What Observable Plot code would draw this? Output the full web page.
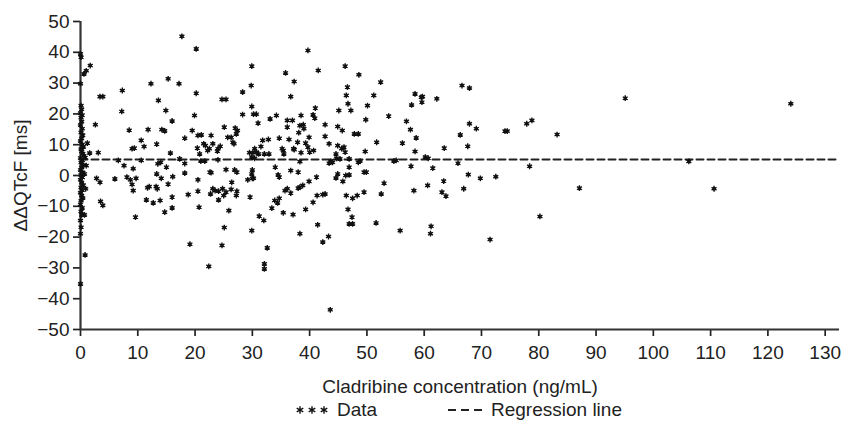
<!DOCTYPE html>
<html>
<head>
<meta charset="utf-8">
<script src="https://cdn.jsdelivr.net/npm/d3@7"></script>
<script src="https://cdn.jsdelivr.net/npm/@observablehq/plot@0.6"></script>
<style>
  html, body { margin: 0; padding: 0; background: #fff; }
  body { width: 848px; height: 425px; position: relative; overflow: hidden; font-family: "Liberation Sans", Arial, sans-serif; color: #222; }
  #legend { position: absolute; left: 0; top: 395px; width: 848px; height: 30px; font-size: 19px; }
  .item { position: absolute; top: 0; height: 30px; display: flex; align-items: center; white-space: nowrap; }
  .item svg { display: block; margin-right: 4px; }
</style>
</head>
<body>
<div id="chart"></div>
<div id="legend"></div>
<script>
// ---- Data (x: Cladribine concentration ng/mL, y: ΔΔQTcF ms) ----
// Points along / near the y axis
const concA = [0.0, 0.1, 0.0, 0.1, 0.2, 0.0, 0.3, 0.1, 0.2, 0.0,
  0.3, 0.1, 0.4, 0.2, 0.0, 0.3, 0.5, 0.1, 0.2, 0.4,
  0.6, 0.0, 0.3, 0.1, 0.5, 0.2, 0.0, 0.4, 0.1, 0.3,
  0.0, 0.2, 0.5, 0.1, 0.3, 0.0, 0.2, 0.4, 0.1, 0.0,
  0.3, 0.1, 0.2, 0.0, 0.1, 0.0, 0.0,
  0.6, 1.0, 1.7, 0.8, 1.2, 0.9, 0.7, 1.6, 0.8, 1.0, 0.7];
const dqtcfA = [39.5, 38.4, 29.8, 22.7, 21.5, 20.3, 19.6, 18.8, 17.5, 16.4,
  15.2, 14.0, 13.1, 12.0, 11.2, 10.1, 9.3, 8.6, 7.8, 7.1,
  6.4, 5.7, 4.9, 4.2, 3.4, 2.6, 1.8, 1.0, 0.2, -0.6,
  -1.4, -2.3, -3.1, -3.9, -4.8, -5.6, -6.5, -7.3, -8.2, -9.4,
  -10.5, -11.7, -12.8, -14.6, -16.8, -18.9, -35.2,
  33.0, 34.0, 35.7, -25.8, 10.5, -4.3, -12.8, 7.3, 5.8, 3.2, 0.5];

// 2 – 21 ng/mL
const concB = [2.6, 3.4, 3.9, 3.1, 2.8, 3.4, 3.5, 3.9, 6.0, 6.6,
  7.3, 7.2, 8.5, 7.6, 9.0, 9.4, 9.2, 8.1, 8.7, 9.7,
  9.0, 9.2, 9.6, 10.6, 11.1, 10.6, 11.8, 12.3, 13.6, 13.3,
  13.5, 14.0, 14.2, 14.7, 14.9, 15.3, 16.0, 15.7, 15.0, 13.3,
  11.7, 12.0, 13.2, 13.4, 14.1, 15.3, 16.1, 11.5, 12.7, 13.9,
  14.7, 16.0, 16.0, 17.2, 17.7, 18.2, 17.3, 18.2, 18.2, 18.8,
  19.1, 20.2, 20.2, 19.9, 19.5, 20.5, 20.5, 20.7];
const dqtcfB = [16.5, 25.6, 25.6, 7.4, -0.9, -2.2, -8.4, -9.7, -1.1, 4.9,
  27.6, 20.8, 14.7, 3.2, 8.7, 8.9, 2.2, -0.5, -1.4, -0.9,
  -2.9, -4.9, -13.5, 11.4, 9.4, 4.9, 14.9, 29.8, 24.4, 10.2,
  3.8, 4.3, 14.9, 14.5, 21.1, 31.4, 17.7, 7.3, 2.7, 0.5,
  -4.0, -3.6, -3.6, -4.3, -0.9, -2.8, -0.4, -7.9, -8.9, -8.1,
  -11.9, -10.5, -7.0, 29.8, 45.2, 12.1, 5.4, 3.9, 0.8, -6.2,
  -22.3, 41.1, 26.7, 19.5, 14.6, -1.4, -5.1, -10.3];

// 20 – 42 ng/mL
const concC = [20.5, 21.1, 20.4, 20.8, 21.5, 21.8, 22.2, 22.5, 22.8, 23.1,
  24.0, 24.4, 23.9, 21.0, 21.7, 24.0, 22.6, 22.8, 22.7, 23.1,
  23.5, 24.1, 24.1, 22.4, 24.7, 25.1, 24.7, 25.4, 25.1, 25.4,
  24.8, 25.4, 25.0, 25.9, 25.7, 26.3, 26.6, 26.8, 27.0, 27.4,
  27.2, 26.9, 27.3, 26.4, 26.3, 27.3, 27.2, 28.3, 28.3, 29.9,
  29.8, 29.9, 30.2, 30.7, 31.0, 29.5, 30.1, 30.4, 30.7, 29.9,
  30.4, 31.5, 31.8, 31.1, 32.1, 32.8, 33.1, 34.2, 32.9, 29.2,
  30.0, 29.9, 30.0, 30.2, 29.6, 29.9, 31.2, 32.0, 32.6, 32.1,
  32.1, 34.0, 34.5, 34.7, 33.9, 34.4, 34.7, 33.4, 35.4, 35.8,
  37.3, 36.7, 34.7, 35.2, 35.4, 36.1, 37.0, 36.1, 36.4, 37.2,
  37.3, 35.5, 36.7, 35.7, 36.1, 36.7, 37.1, 38.0, 38.3, 37.9,
  38.1, 38.5, 38.9, 39.0, 38.3, 38.5, 39.9, 39.3, 39.7, 40.0,
  39.7, 40.6, 40.9, 41.0, 41.5, 40.7, 38.0, 38.3, 38.8, 39.9,
  39.3, 40.6, 38.3, 41.2, 41.3, 41.4];
const dqtcfC = [13.0, 13.2, 8.9, 7.0, 10.3, 9.7, 8.1, 8.7, 13.0, 10.3,
  8.7, 9.5, 7.9, 4.7, 4.7, 5.1, 1.1, 0.9, -6.0, -4.3,
  -4.9, -5.1, -7.9, -29.5, -22.7, -16.9, 24.7, 24.7, 15.7, 1.9,
  -4.3, -5.4, -6.5, -11.4, 12.4, 12.4, 10.8, 10.3, 15.4, 14.6,
  13.5, 1.8, 1.1, -2.2, -4.5, -5.1, -6.5, 27.1, 19.8, 35.5,
  29.2, 22.4, 19.9, 19.9, 17.0, 7.4, 7.4, 8.7, 7.6, 6.0,
  5.6, 9.4, 11.4, 7.0, 7.0, 11.7, 18.4, 19.5, 7.0, -1.4,
  1.8, 0.5, -0.9, -0.9, -7.0, -17.9, -13.2, -14.6, -23.5, -28.7,
  -30.3, 2.7, 0.2, -0.5, -8.1, -8.9, -7.4, -10.6, -12.1, 33.3,
  30.5, 25.6, 12.1, 8.7, 8.1, 17.9, 17.9, 15.7, 11.7, 8.7,
  8.4, 7.0, 1.6, -4.9, -4.3, -5.7, -12.7, 1.1, 4.5, 10.8,
  13.9, 19.5, 16.5, 15.2, 16.2, 7.4, 12.4, 10.5, 9.2, 7.6,
  40.6, 19.7, 18.6, 21.9, 34.1, 8.1, -4.1, -3.8, -3.2, -1.9,
  -11.0, -8.7, -18.9, -0.5, -6.5, -16.0];

// 42 – 62 ng/mL
const concD = [42.7, 42.7, 43.4, 43.7, 44.0, 43.4, 44.6, 44.7, 44.9, 44.9,
  45.7, 45.1, 46.2, 46.6, 46.4, 46.7, 47.2, 48.6, 45.6, 46.0,
  46.2, 45.3, 46.9, 47.8, 48.5, 48.5, 48.8, 46.9, 46.3, 46.9,
  45.8, 44.6, 44.9, 49.7, 49.8, 50.1, 51.2, 52.4, 51.7, 49.5,
  49.9, 49.5, 46.4, 47.5, 48.3, 46.7, 47.4, 47.5, 46.9, 42.3,
  42.7, 43.3, 42.3, 43.6, 51.6, 52.5, 53.0, 53.8, 54.7, 55.1,
  55.8, 56.2, 56.9, 57.6, 57.8, 58.4, 58.6, 58.4, 57.7, 58.2,
  59.5, 59.6, 59.7, 60.2, 60.7, 61.5, 60.6, 61.2, 61.1, 62.2];
const dqtcfD = [16.5, 12.7, 10.3, 4.7, 4.3, 4.0, 7.0, 5.6, 9.7, 15.9,
  14.6, 21.1, 35.5, 28.7, 26.0, 23.3, 21.1, 32.7, 8.7, 9.2,
  7.6, 5.4, 5.4, 13.5, 13.5, 4.3, 4.7, 2.7, 0.0, 0.2,
  -1.9, -0.8, 0.5, 7.8, 18.1, 22.7, 26.0, 30.3, 10.8, 1.1,
  1.1, -5.4, -6.5, -7.4, -6.5, -11.0, -13.5, -15.7, -15.7, -6.2,
  -6.0, -19.8, -21.6, -43.6, -15.4, -6.0, -2.5, 19.3, 4.7, 4.9,
  -17.9, 10.5, 17.6, 14.9, 22.9, 26.5, 12.2, 7.8, 3.0, -4.9,
  25.4, 23.8, 25.6, 6.0, 5.6, 2.4, -3.2, -16.5, -18.9, 24.9];

// above 62 ng/mL
const concE = [63.5, 63.4, 63.1, 63.8, 65.9, 66.6, 67.9, 66.3, 67.9, 69.1,
  67.6, 67.7, 66.9, 69.8, 71.5, 72.5, 74.1, 74.5, 77.9, 78.8,
  78.4, 80.2, 83.2, 87.1, 95.1, 106.2, 110.6, 124.0];
const dqtcfE = [8.9, -1.8, -5.4, -6.7, 4.0, 29.2, 28.4, 13.2, 16.8, 15.2,
  9.5, 0.3, -4.3, -0.9, -20.8, -0.4, 14.4, 14.4, 16.8, 17.9,
  3.0, -13.3, 13.3, -4.1, 25.1, 4.6, -4.3, 23.3];

// Regression line (nearly flat)
const regConc = [0, 132.5];
const regDqtcf = [5.2, 5.2];

// Axis ticks
const xTicks = [0, 10, 20, 30, 40, 50, 60, 70, 80, 90, 100, 110, 120, 130];
const yTicks = [-50, -40, -30, -20, -10, 0, 10, 20, 30, 40, 50];

// ---- Build tables ----
const groups = [[concA, dqtcfA], [concB, dqtcfB], [concC, dqtcfC], [concD, dqtcfD], [concE, dqtcfE]];
const points = [];
for (const [xs, ys] of groups) {
  if (xs.length !== ys.length) console.error("length mismatch", xs.length, ys.length);
  xs.forEach((x, i) => points.push({conc: x, dqtcf: ys[i]}));
}
const reg = regConc.map((x, i) => ({conc: x, dqtcf: regDqtcf[i]}));

const ink = "#222";
const chart = Plot.plot({
  width: 848,
  height: 395,
  marginLeft: 80,
  marginRight: 9,
  marginTop: 21,
  marginBottom: 66,
  style: {fontFamily: "'Liberation Sans', Arial, sans-serif", fontSize: "19px", color: ink, background: "#fff", overflow: "visible"},
  x: {domain: [0, 132.5]},
  y: {domain: [-50, 50]},
  marks: [
    Plot.axisX({ticks: xTicks, tickSize: 7, tickPadding: 9, strokeWidth: 1.7, label: "Cladribine concentration (ng/mL)", labelAnchor: "center", labelArrow: "none", labelOffset: 63}),
    Plot.axisY({ticks: yTicks, tickSize: 7, tickPadding: 4, strokeWidth: 1.7, label: "ΔΔQTcF [ms]", labelAnchor: "center", labelArrow: "none", labelOffset: 67}),
    Plot.ruleX([0], {stroke: "#333", strokeWidth: 2.2}),
    Plot.ruleY([-50], {stroke: "#333", strokeWidth: 2.2}),
    Plot.line(reg, {x: "conc", y: "dqtcf", stroke: ink, strokeWidth: 2, strokeDasharray: "7,4"}),
    Plot.dot(points, {x: "conc", y: "dqtcf", r: 1.7, fill: "#111", stroke: "none"}),
    Plot.dot(points, {x: "conc", y: "dqtcf", symbol: "asterisk", r: 2.7, stroke: "#111", strokeWidth: 1.4})
  ]
});
document.getElementById("chart").appendChild(chart);

// ---- Legend (below the SVG) ----
const legend = document.getElementById("legend");
const starPath = d3.symbol(d3.symbolAsterisk, 40)();
const item1 = document.createElement("div");
item1.className = "item";
item1.style.left = "293px";
item1.innerHTML = `<svg width="40" height="30">${[7, 19, 31].map(cx => `<path d="${starPath}" transform="translate(${cx},15)" stroke="#111" stroke-width="1.4" fill="none"/>`).join("")}</svg><span>Data</span>`;
const item2 = document.createElement("div");
item2.className = "item";
item2.style.left = "447px";
item2.innerHTML = `<svg width="40" height="30"><line x1="1" x2="37" y1="15" y2="15" stroke="${ink}" stroke-width="2" stroke-dasharray="8,5"/></svg><span>Regression line</span>`;
legend.appendChild(item1);
legend.appendChild(item2);
</script>
</body>
</html>
